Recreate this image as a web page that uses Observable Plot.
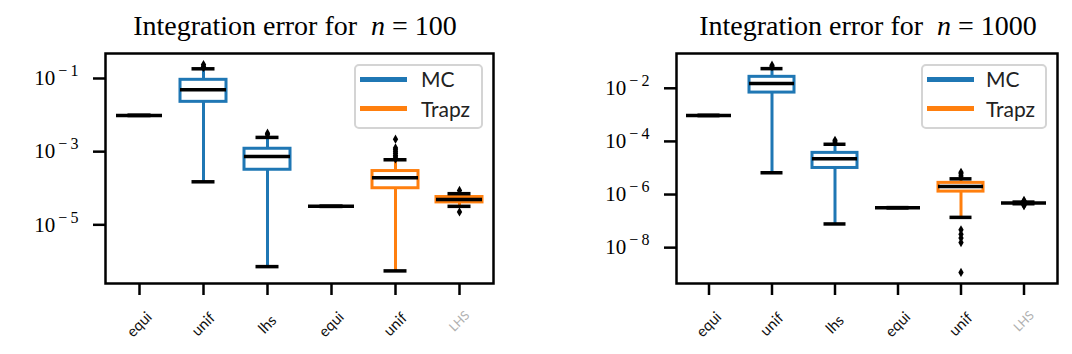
<!DOCTYPE html>
<html><head><meta charset="utf-8">
<script src="https://cdn.jsdelivr.net/npm/d3@7"></script>
<script src="https://cdn.jsdelivr.net/npm/@observablehq/plot@0.6"></script>
<style>
html,body{margin:0;padding:0;background:#fff;}
#wrap{position:relative;width:1072px;height:354px;overflow:hidden;background:#fff;}
.panel{position:absolute;top:0;}
.title{position:absolute;font-family:"Liberation Serif",serif;font-size:28px;line-height:28px;text-align:center;color:#000;white-space:nowrap;}
.legend{position:absolute;box-sizing:border-box;border:2px solid #d4d4d4;border-radius:5px;background:rgba(255,255,255,0.85);font-family:Lato,sans-serif;font-size:21px;color:#222;}
.lline{position:absolute;height:5px;}
.ltext{position:absolute;line-height:21px;}
</style>
</head><body>
<div id="wrap"></div>
<script>
// ---- data ----
const labels = ["equi", "unif", "lhs", "equi", "unif", "LHS"];
const methods = ["MC", "MC", "MC", "Trapz", "Trapz", "Trapz"];
const seriesNames = ["MC", "Trapz"];
const seriesColors = ["#1f77b4", "#ff7f0e"];
const titles = ["100", "1000"];

// n = 100
const lo100  = [9.8e-3, 1.5e-4, 7.2e-7, 3.2e-5, 5.5e-7, 3.2e-5];
const q1_100 = [9.8e-3, 2.3e-2, 3.2e-4, 3.2e-5, 1.0e-4, 4.1e-5];
const med100 = [9.8e-3, 4.9e-2, 7.4e-4, 3.2e-5, 1.95e-4, 4.9e-5];
const q3_100 = [9.8e-3, 9.2e-2, 1.2e-3, 3.2e-5, 2.95e-4, 5.75e-5];
const hi100  = [9.8e-3, 1.84e-1, 2.45e-3, 3.2e-5, 6.0e-4, 7.1e-5];
const fliers100 = [[], [2.4e-1, 2.15e-1, 2.0e-1], [3.2e-3, 2.9e-3], [],
  [2.2e-3, 1.26e-3, 1.12e-3, 1.0e-3, 8.9e-4, 7.9e-4, 7.1e-4, 6.3e-4], [8.7e-5, 2.25e-5]];
const ticks100 = [1e-1, 1e-3, 1e-5];

// n = 1000
const lo1000  = [9.5e-4, 6.6e-6, 7.8e-8, 3.2e-7, 1.38e-7, 4.5e-7];
const q1_1000 = [9.5e-4, 6.9e-3, 1.0e-5, 3.2e-7, 1.29e-6, 4.8e-7];
const med1000 = [9.5e-4, 1.5e-2, 2.2e-5, 3.2e-7, 2.0e-6, 4.8e-7];
const q3_1000 = [9.5e-4, 2.7e-2, 3.7e-5, 3.2e-7, 2.75e-6, 4.8e-7];
const hi1000  = [9.5e-4, 5.5e-2, 7.8e-5, 3.2e-7, 3.9e-6, 5.2e-7];
const fliers1000 = [[], [7.4e-2, 6.6e-2], [1.1e-4, 9.5e-5], [],
  [6.9e-6, 6.0e-6, 5.0e-6, 4.7e-8, 3.2e-8, 2.3e-8, 1.55e-8, 1.17e-9], [6.0e-7, 5.7e-7, 3.8e-7, 4.0e-7]];
const ticks1000 = [1e-2, 1e-4, 1e-6, 1e-8];

// ---- drawing ----
const wrap = document.getElementById("wrap");

function makePanel(cfg) {
  const idx = labels.map((_, i) => i);
  const stats = idx.map(i => ({i, m: methods[i], lo: cfg.lo[i], q1: cfg.q1[i], med: cfg.med[i], q3: cfg.q3[i], hi: cfg.hi[i]}));
  const fl = idx.flatMap(i => cfg.fliers[i].map(v => ({i, v})));
  const capInset = 11.5;
  const svg = Plot.plot({
    width: 536, height: 354,
    marginLeft: cfg.marginLeft, marginRight: cfg.marginRight, marginTop: 53, marginBottom: 71,
    x: {type: "band", domain: idx, paddingInner: 0.28, paddingOuter: 0.14, axis: null},
    y: {type: "log", domain: cfg.domain, axis: null},
    color: {domain: seriesNames, range: seriesColors},
    marks: [
      Plot.ruleX(stats, {x: "i", y1: "lo", y2: "q1", stroke: "m", strokeWidth: 3}),
      Plot.ruleX(stats, {x: "i", y1: "q3", y2: "hi", stroke: "m", strokeWidth: 3}),
      Plot.barY(stats, {filter: d => d.q3 > d.q1, x: "i", y1: "q1", y2: "q3", fill: "white", stroke: "m", strokeWidth: 3}),
      Plot.tickY(stats, {x: "i", y: "lo", stroke: "black", strokeWidth: 3.5, insetLeft: capInset, insetRight: capInset}),
      Plot.tickY(stats, {x: "i", y: "hi", stroke: "black", strokeWidth: 3.5, insetLeft: capInset, insetRight: capInset}),
      Plot.tickY(stats, {x: "i", y: "med", stroke: "black", strokeWidth: 3.5}),
      Plot.dot(fl, {x: "i", y: "v", symbol: "diamond", r: 2.8, fill: "black", stroke: "none"}),
      Plot.frame({stroke: "black", strokeWidth: 2.5}),
      Plot.axisY(cfg.ticks, {anchor: "left", tickSize: 12, tickPadding: 15, strokeWidth: 2.5, label: null,
        fontSize: 21, fontFamily: "Liberation Serif",
        tickFormat: d => String(Math.round(Math.log10(d)))}),
      Plot.axisX(idx, {anchor: "bottom", tickSize: 12, strokeWidth: 2.5, label: null, tickFormat: () => ""}),
      Plot.text(idx.filter(i => labels[i] !== "LHS"), {x: d => d, text: d => labels[d], frameAnchor: "bottom",
        dy: 41, rotate: -45, fontSize: 15, fontFamily: "Lato", textAnchor: "middle", lineAnchor: "middle", fill: "#111"}),
      Plot.text(idx.filter(i => labels[i] === "LHS"), {x: d => d, text: d => labels[d], frameAnchor: "bottom",
        dy: 38, rotate: -45, fontSize: 12.5, fontFamily: "Lato", textAnchor: "middle", lineAnchor: "middle", fill: "#b0b0b0"})
    ]
  });
  // superscript exponents on the y tick labels
  d3.select(svg).selectAll('g[aria-label="y-axis tick label"] text').each(function () {
    const e = this.textContent;
    const t = d3.select(this);
    t.text(null);
    t.append("tspan").text("10");
    t.append("tspan").attr("dx", "3").attr("dy", "-9").attr("font-size", "16").text("\u2212\u2009" + e.replace("-", ""));
  });

  const holder = document.createElement("div");
  holder.className = "panel";
  holder.style.left = cfg.left + "px";
  holder.appendChild(svg);
  wrap.appendChild(holder);

  const title = document.createElement("div");
  title.className = "title";
  title.style.left = (cfg.titleCenter - 200) + "px";
  title.style.width = "400px";
  title.style.top = "12px";
  title.innerHTML = "Integration error for&nbsp; <i>n</i> = " + cfg.title;
  wrap.appendChild(title);

  const lg = document.createElement("div");
  lg.className = "legend";
  lg.style.left = cfg.legendLeft + "px";
  lg.style.top = "64px";
  lg.style.width = cfg.legendWidth + "px";
  lg.style.height = "65px";
  seriesNames.forEach((name, k) => {
    const ln = document.createElement("div");
    ln.className = "lline";
    ln.style.left = "4px";
    ln.style.width = "47px";
    ln.style.top = (10.5 + k * 29.5) + "px";
    ln.style.background = seriesColors[k];
    lg.appendChild(ln);
    const tx = document.createElement("div");
    tx.className = "ltext";
    tx.style.left = cfg.legendTextX + "px";
    tx.style.top = (2 + k * 29.5) + "px";
    tx.textContent = name;
    lg.appendChild(tx);
  });
  wrap.appendChild(lg);
}

makePanel({lo: lo100, q1: q1_100, med: med100, q3: q3_100, hi: hi100, fliers: fliers100,
  domain: [Math.pow(10, -6.604), Math.pow(10, -0.317)], ticks: ticks100,
  marginLeft: 105, marginRight: 43, left: 0, title: titles[0], titleCenter: 295,
  legendLeft: 354, legendWidth: 129, legendTextX: 65});
makePanel({lo: lo1000, q1: q1_1000, med: med1000, q3: q3_1000, hi: hi1000, fliers: fliers1000,
  domain: [Math.pow(10, -9.35), Math.pow(10, -0.69)], ticks: ticks1000,
  marginLeft: 140, marginRight: 15, left: 536, title: titles[1], titleCenter: 868,
  legendLeft: 921, legendWidth: 126, legendTextX: 63});
</script>
</body></html>
